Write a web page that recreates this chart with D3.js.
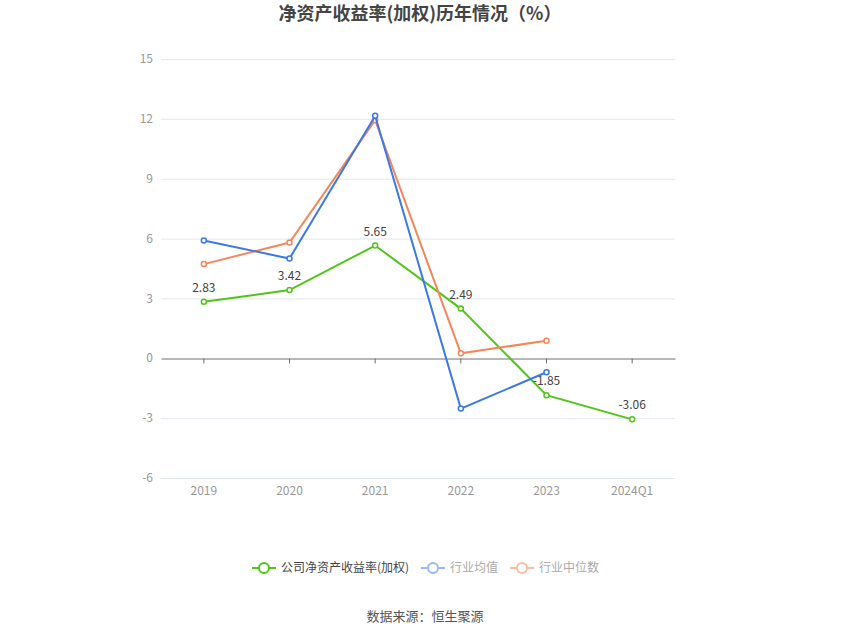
<!DOCTYPE html>
<html lang="zh">
<head>
<meta charset="UTF-8">
<title>净资产收益率(加权)历年情况</title>
<script src="https://d3js.org/d3.v7.min.js"></script>
<style>
    body { margin: 0; background: #fff; font-family: "Noto Sans CJK SC", "Noto Sans", sans-serif; }
    .grid line { stroke: #e3e7ef; stroke-width: 1; }
    .axis text { fill: #999; font-size: 12px; }
</style>
</head>
<body>
<div id="chart"></div>
<script>
    // data
    const years = ["2019", "2020", "2021", "2022", "2023", "2024Q1"];
    const companyRoe = [2.83, 3.42, 5.65, 2.49, -1.85, -3.06];
    const industryMean = [5.9, 5.0, 12.15, -2.52, -0.7, null];
    const industryMedian = [4.72, 5.8, 11.93, 0.25, 0.88, null];
    const yTicks = [-6, -3, 0, 3, 6, 9, 12, 15];

    const series = [
        {name: "公司净资产收益率(加权)", values: companyRoe, color: "#52c41a", legendColor: "#52c41a"},
        {name: "行业均值", values: industryMean, color: "#3c78e6", legendColor: "#9ab8f5"},
        {name: "行业中位数", values: industryMedian, color: "#f5855a", legendColor: "#f8bca4"}
    ];

    const W = 850, H = 637;
    const margin = {top: 59, right: 175, bottom: 159, left: 161};

    const svg = d3.select("#chart").append("svg")
        .attr("width", W).attr("height", H);

    const x = d3.scaleBand().domain(years).range([margin.left, W - margin.right]);
    const y = d3.scaleLinear().domain([-6, 15]).range([H - margin.bottom, margin.top]);

    // title
    svg.append("text")
        .attr("x", 420).attr("y", 20)
        .attr("text-anchor", "middle")
        .style("font-size", "18px").style("font-weight", "bold").style("fill", "#444")
        .text("净资产收益率(加权)历年情况（%）");

    // grid lines
    svg.append("g").attr("class", "grid")
        .selectAll("line").data(yTicks.filter(d => d !== 0))
        .enter().append("line")
        .attr("x1", margin.left).attr("x2", W - margin.right)
        .attr("y1", d => y(d) + 0.5).attr("y2", d => y(d) + 0.5);

    // y axis labels
    svg.append("g").attr("class", "axis")
        .selectAll("text").data(yTicks)
        .enter().append("text")
        .attr("x", 153).attr("y", d => y(d))
        .attr("dy", "0.35em")
        .attr("text-anchor", "end")
        .text(d => d);

    // zero axis line with ticks
    const xAxis = svg.append("g")
        .attr("transform", `translate(0,${Math.round(y(0)) + 0.5})`)
        .call(d3.axisBottom(x).tickSize(5).tickSizeOuter(0).tickFormat(""));
    xAxis.select(".domain").attr("stroke", "#6e7079");
    xAxis.selectAll(".tick line").attr("stroke", "#6e7079");

    // x labels at the bottom
    svg.append("g").attr("class", "axis")
        .selectAll("text").data(years)
        .enter().append("text")
        .attr("x", d => x(d) + x.bandwidth() / 2)
        .attr("y", y(-6) + 17)
        .attr("text-anchor", "middle")
        .text(d => d);

    const cx = (d, i) => x(years[i]) + x.bandwidth() / 2;

    // lines, blue drawn on top like the reference
    const drawOrder = [series[0], series[2], series[1]];
    drawOrder.forEach(s => {
        const line = d3.line()
            .defined(d => d !== null)
            .x(cx)
            .y(d => y(d));
        svg.append("path")
            .datum(s.values)
            .attr("fill", "none")
            .attr("stroke", s.color)
            .attr("stroke-width", 2)
            .attr("d", line);
        svg.append("g").selectAll("circle")
            .data(s.values.map((v, i) => ({v, i})).filter(d => d.v !== null))
            .enter().append("circle")
            .attr("cx", d => cx(null, d.i))
            .attr("cy", d => y(d.v))
            .attr("r", 2.5)
            .attr("fill", "#fff")
            .attr("stroke", s.color)
            .attr("stroke-width", 1.5);
    });

    // value labels for company series
    svg.append("g").selectAll("text")
        .data(companyRoe)
        .enter().append("text")
        .attr("x", (d, i) => cx(d, i))
        .attr("y", d => y(d) - 10)
        .attr("text-anchor", "middle")
        .style("font-size", "12px").style("fill", "#444")
        .text(d => d.toFixed(2));

    // legend
    const legendItems = [
        {s: series[0], x: 252, textColor: "#444"},
        {s: series[1], x: 421, textColor: "#aaa"},
        {s: series[2], x: 510, textColor: "#aaa"}
    ];
    const ly = 568;
    const lg = svg.append("g").selectAll("g").data(legendItems).enter().append("g")
        .attr("transform", d => `translate(${d.x},${ly})`);
    lg.append("line")
        .attr("x1", 0).attr("x2", 24)
        .attr("stroke", d => d.s.legendColor).attr("stroke-width", 2);
    lg.append("circle")
        .attr("cx", 12).attr("r", 5)
        .attr("fill", "#fff")
        .attr("stroke", d => d.s.legendColor).attr("stroke-width", 2);
    lg.append("text")
        .attr("x", 29).attr("dy", "0.35em")
        .style("font-size", "12px")
        .style("fill", d => d.textColor)
        .text(d => d.s.name);

    // source
    svg.append("text")
        .attr("x", 425).attr("y", 621)
        .attr("text-anchor", "middle")
        .style("font-size", "13px").style("fill", "#555")
        .text("数据来源：恒生聚源");
</script>
</body>
</html>
